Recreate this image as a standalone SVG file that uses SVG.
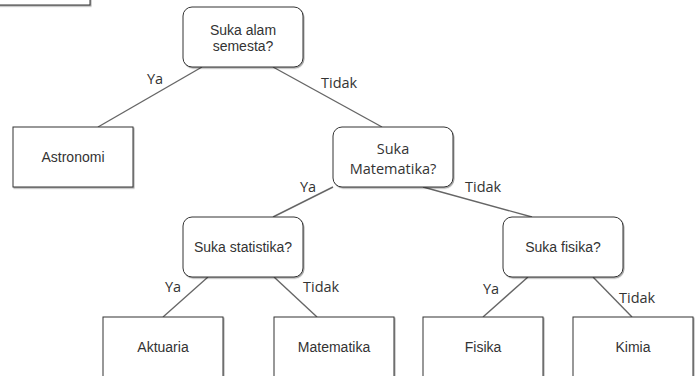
<svg xmlns="http://www.w3.org/2000/svg" width="699" height="376" viewBox="0 0 699 376">
  <style>
    .box { fill: #ffffff; stroke: #333333; stroke-width: 1; filter: url(#shade); }
    .node-text { font-family: "Liberation Sans", Arial, sans-serif; font-size: 14px; fill: #333333; text-anchor: middle; }
    .alt-text { font-family: "Open Sans", "DejaVu Sans", sans-serif; font-size: 14.5px; fill: #333333; text-anchor: middle; }
    .edge { stroke: #666666; stroke-width: 1.4; fill: none; }
    .edge-label { font-family: "Open Sans", "DejaVu Sans", sans-serif; font-size: 14.5px; fill: #333333; }
  </style>
  <defs>
    <filter id="shade" x="-10%" y="-10%" width="120%" height="130%">
      <feDropShadow dx="1" dy="1.2" stdDeviation="0.6" flood-color="#000000" flood-opacity="0.35"/>
    </filter>
  </defs>
  <rect width="699" height="376" fill="#ffffff"/>

  <g id="edges">
    <line class="edge" x1="202" y1="67" x2="98" y2="127"/>
    <line class="edge" x1="273" y1="67" x2="382" y2="127"/>
    <line class="edge" x1="333" y1="187" x2="273" y2="217"/>
    <line class="edge" x1="423" y1="187" x2="532" y2="217"/>
    <line class="edge" x1="208" y1="277" x2="163" y2="317"/>
    <line class="edge" x1="274" y1="277" x2="317" y2="317"/>
    <line class="edge" x1="528" y1="277" x2="483" y2="317"/>
    <line class="edge" x1="593" y1="277" x2="632" y2="317"/>
    <text class="edge-label" x="147" y="84">Ya</text>
    <text class="edge-label" x="321" y="88">Tidak</text>
    <text class="edge-label" x="300" y="192">Ya</text>
    <text class="edge-label" x="465" y="192">Tidak</text>
    <text class="edge-label" x="165" y="292">Ya</text>
    <text class="edge-label" x="303" y="292">Tidak</text>
    <text class="edge-label" x="483" y="294">Ya</text>
    <text class="edge-label" x="619" y="303">Tidak</text>
  </g>

  <g id="corner-box">
    <rect class="box" x="-10" y="-20" width="100" height="25"/>
  </g>

  <g id="q-alam">
    <rect class="box" x="183" y="7" width="120" height="60" rx="9" ry="9"/>
    <text class="node-text" x="243" y="35">Suka alam</text>
    <text class="node-text" x="243" y="51">semesta?</text>
  </g>

  <g id="astronomi">
    <rect class="box" x="13" y="127" width="120" height="60"/>
    <text class="node-text" x="73" y="162">Astronomi</text>
  </g>

  <g id="q-matematika">
    <rect class="box" x="333" y="127" width="120" height="60" rx="9" ry="9"/>
    <text class="alt-text" x="393" y="153.5">Suka</text>
    <text class="alt-text" x="393" y="173.5">Matematika?</text>
  </g>

  <g id="q-statistika">
    <rect class="box" x="183" y="217" width="120" height="60" rx="9" ry="9"/>
    <text class="node-text" x="243" y="252">Suka statistika?</text>
  </g>

  <g id="q-fisika">
    <rect class="box" x="503" y="217" width="120" height="60" rx="9" ry="9"/>
    <text class="node-text" x="563" y="252">Suka fisika?</text>
  </g>

  <g id="aktuaria">
    <rect class="box" x="103" y="317" width="120" height="70"/>
    <text class="node-text" x="163" y="352">Aktuaria</text>
  </g>

  <g id="matematika">
    <rect class="box" x="274" y="317" width="120" height="70"/>
    <text class="node-text" x="334" y="352">Matematika</text>
  </g>

  <g id="fisika">
    <rect class="box" x="423" y="317" width="120" height="70"/>
    <text class="node-text" x="483" y="352">Fisika</text>
  </g>

  <g id="kimia">
    <rect class="box" x="573" y="317" width="120" height="70"/>
    <text class="node-text" x="633" y="352">Kimia</text>
  </g>
</svg>
